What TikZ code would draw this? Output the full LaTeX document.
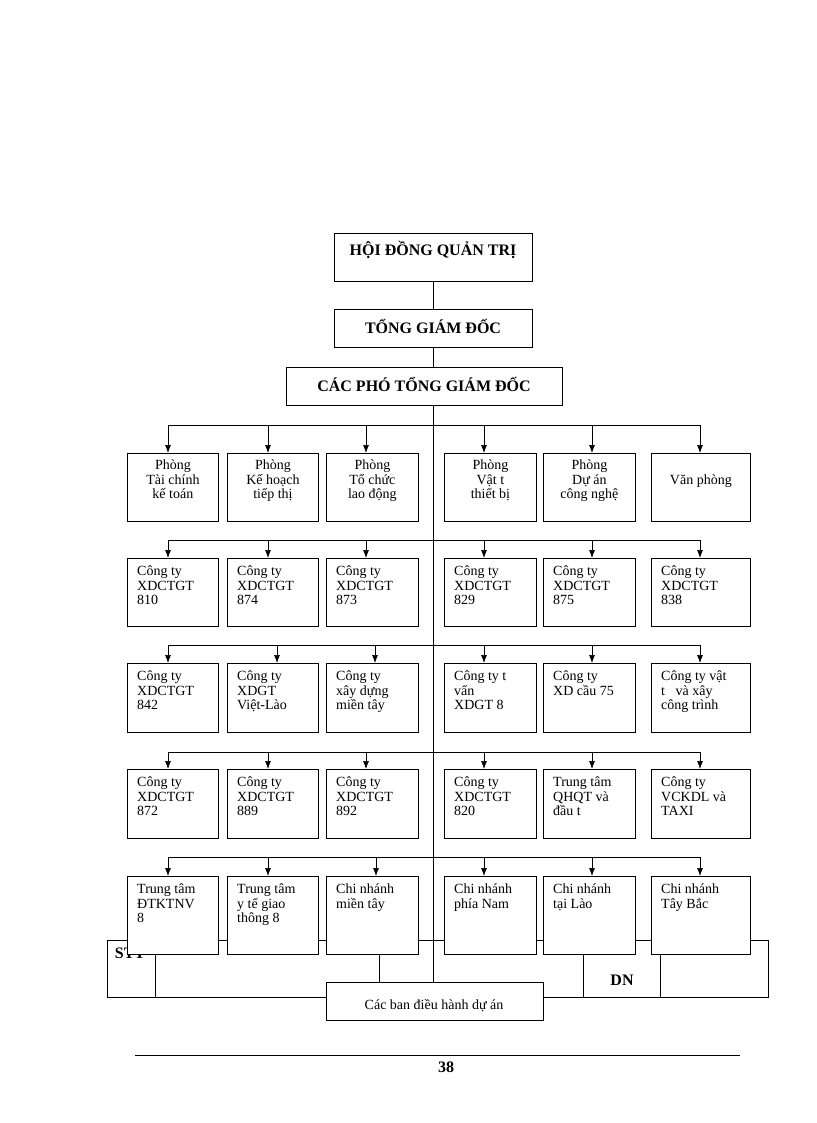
\documentclass[tikz,border=0pt]{standalone}
\usepackage{fontspec}
\setmainfont{Liberation Serif}
\usetikzlibrary{arrows.meta}
\begin{document}
\begin{tikzpicture}[x=1pt,y=-1pt,
 box/.style={draw,fill=white,line width=0.8pt,anchor=north west,inner sep=0pt},
 ar/.style={-{Latex[length=8pt,width=6pt]},line width=0.7pt},
 ln/.style={line width=0.7pt}]
\useasboundingbox (0,0) rectangle (816,1123);
\newcommand{\fs}{\fontsize{14}{14.5}\selectfont}
\newcommand{\fb}{\fontsize{16}{18}\selectfont\bfseries}
% leaked table behind
\draw[ln] (107,940) rectangle (768,997);
\draw[ln] (155,940)--(155,997) (583,940)--(583,997) (660,940)--(660,997) (379,940)--(379,982);
\node[font=\fb] (stt) at (130,953) {STT};
\node[font=\fb] (dn) at (622,980) {DN};
% top
\newcommand{\bx}[5]{\node[box,minimum width=#3-#2,minimum height=#5-#4] (#1) at (#2,#4) {};}
\bx{hd}{334}{532}{233}{281}\node[font=\fb] at (433,250) {HỘI ĐỒNG QUẢN TRỊ};
\bx{tgd}{334}{532}{309}{347}\node[font=\fb] at (433,326) {TỔNG GIÁM ĐỐC};
\bx{pho}{286}{562}{367}{405}\node[font=\fb] at (424,384) {CÁC PHÓ TỔNG GIÁM ĐỐC};
\draw[ln] (hd.south)--(tgd.north) (tgd.south)--(tgd.south |- pho.north);
\coordinate (cbot) at (433,982);
\draw[ln] (433,405)--(cbot);
% rows
\def\xs{127/218,227/318,326/418,444/536,543/635,651/750}
\newcommand{\row}[5]{%
 \foreach \a/\b [count=\i] in \xs {\bx{#1\i}{\a}{\b}{#2}{#3}}
 \draw[ln] (168,#4)--(700,#4);
 \foreach \ax [count=\i] in {#5} {\draw[ar] (\ax,#4)--(\ax,#2);}
}
\row{a}{453}{521}{425}{168,268,366,484,592,700}
\row{b}{558}{626}{540}{168,268,366,484,592,700}
\row{c}{663}{732}{645}{168,277,375,484,592,700}
\row{d}{769}{838}{752}{168,268,366,484,592,700}
\row{e}{876}{954}{857}{168,268,376,484,592,700}
\draw[ln] (433,405)--(433,982);
\tikzset{t/.style={align=center,font=\fs,anchor=north,inner sep=0pt},
 l/.style={align=left,font=\fs,anchor=north west,inner sep=0pt}}
\node[t] at ([yshift=-7pt]a1.north) {Phòng\\Tài chính\\kế toán};
\node[t] at ([yshift=-7pt]a2.north) {Phòng\\Kế hoạch\\tiếp thị};
\node[t] at ([yshift=-7pt]a3.north) {Phòng\\Tổ chức\\lao động};
\node[t] at ([yshift=-7pt]a4.north) {Phòng\\Vật t\\thiết bị};
\node[t] at ([yshift=-7pt]a5.north) {Phòng\\Dự án\\công nghệ};
\node[t] at ([yshift=-22pt]a6.north) {Văn phòng};
\newcommand{\lt}[2]{\node[l] at ([xshift=10pt,yshift=-8pt]#1.north west) {#2};}
\lt{b1}{Công ty\\XDCTGT\\810}\lt{b2}{Công ty\\XDCTGT\\874}\lt{b3}{Công ty\\XDCTGT\\873}
\lt{b4}{Công ty\\XDCTGT\\829}\lt{b5}{Công ty\\XDCTGT\\875}\lt{b6}{Công ty\\XDCTGT\\838}
\lt{c1}{Công ty\\XDCTGT\\842}\lt{c2}{Công ty\\XDGT\\Việt-Lào}\lt{c3}{Công ty\\xây dựng\\miền tây}
\lt{c4}{Công ty t\\vấn\\XDGT 8}\lt{c5}{Công ty\\XD cầu 75}\lt{c6}{Công ty  vật\\t \ \ và xây\\công trình}
\lt{d1}{Công ty\\XDCTGT\\872}\lt{d2}{Công ty\\XDCTGT\\889}\lt{d3}{Công ty\\XDCTGT\\892}
\lt{d4}{Công ty\\XDCTGT\\820}\lt{d5}{Trung tâm\\QHQT và\\đầu t}\lt{d6}{Công ty\\VCKDL và\\TAXI}
\lt{e1}{Trung tâm\\ĐTKTNV\\8}\lt{e2}{Trung tâm\\y tế giao\\thông 8}\lt{e3}{Chi nhánh\\miền tây}
\lt{e4}{Chi nhánh\\phía Nam}\lt{e5}{Chi nhánh\\tại Lào}\lt{e6}{Chi nhánh\\Tây Bắc}
\bx{ban}{326}{543}{982}{1020}\node[font=\fs] at (434,1006) {Các ban điều hành dự án};
\coordinate (r1) at (135,1055); \coordinate (r2) at (740,1055);
\draw[line width=0.7pt] (r1)--(r2);
\node[font=\fb] at (446,1067) {38};
\end{tikzpicture}
\end{document}
